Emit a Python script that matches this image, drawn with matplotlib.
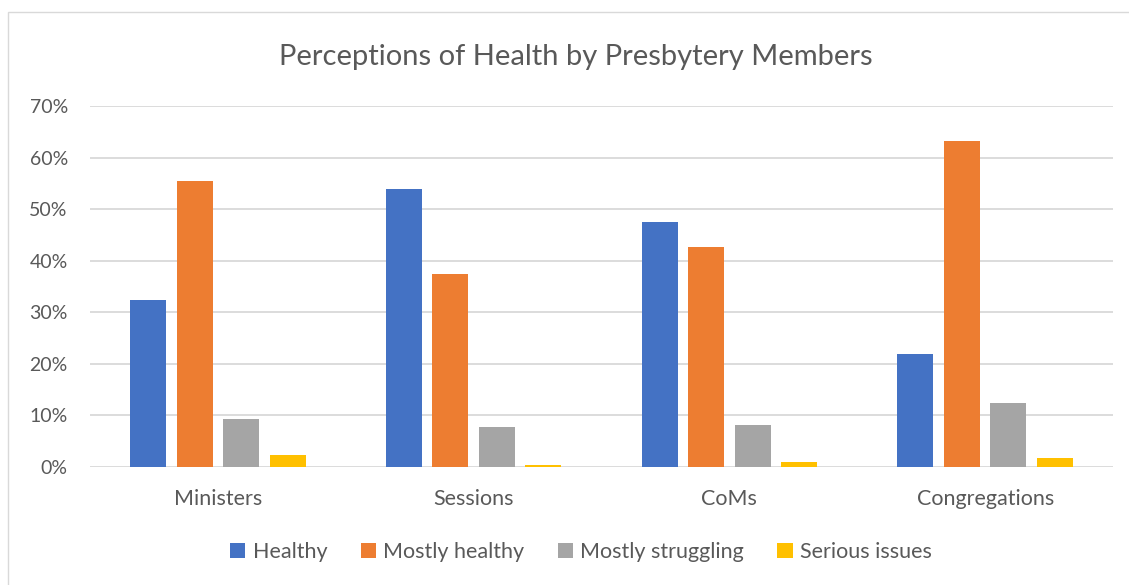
import matplotlib
matplotlib.use("Agg")
import matplotlib.pyplot as plt
import numpy as np
from matplotlib.patches import Rectangle
from matplotlib.ticker import PercentFormatter

categories = ["Ministers", "Sessions", "CoMs", "Congregations"]
healthy = [32.4, 53.9, 47.5, 22.0]
mostly_healthy = [55.4, 37.5, 42.7, 63.3]
mostly_struggling = [9.4, 7.8, 8.2, 12.5]
serious_issues = [2.4, 0.4, 1.0, 1.7]

series_names = ["Healthy", "Mostly healthy", "Mostly struggling", "Serious issues"]
colors = ["#4472C4", "#ED7D31", "#A5A5A5", "#FFC000"]
text_color = "#595959"
grid_color = "#D9D9D9"
font = "Lato"

fig = plt.figure(figsize=(11.29, 5.85), dpi=100)
fig.patches.append(Rectangle((8 / 1129, -0.1), 1.2, (585 - 12) / 585 + 0.1,
                             transform=fig.transFigure, fill=False,
                             edgecolor=grid_color, linewidth=1.0))

ax = fig.add_axes([90 / 1129, (585 - 467) / 585, (1113 - 90) / 1129, (467 - 106) / 585])

x = np.arange(len(categories))
step = 0.182
width = 0.141
all_series = [healthy, mostly_healthy, mostly_struggling, serious_issues]
for i, (vals, name, col) in enumerate(zip(all_series, series_names, colors)):
    ax.bar(x + (i - 1.5) * step, vals, width=width, color=col, label=name, zorder=3)

ax.set_xlim(-0.5, len(categories) - 0.5)
ax.set_ylim(0, 70)
ax.set_yticks(np.arange(0, 71, 10))
ax.yaxis.set_major_formatter(PercentFormatter(decimals=0))
ax.set_xticks(x)
ax.set_xticklabels(categories)
ax.grid(axis="y", color=grid_color, linewidth=1.3, zorder=0)
for s in ax.spines.values():
    s.set_visible(False)
ax.tick_params(axis="both", length=0, colors=text_color)
ax.tick_params(axis="y", pad=16, labelsize=14)
ax.tick_params(axis="x", pad=16, labelsize=15.5)
for lbl in ax.get_xticklabels() + ax.get_yticklabels():
    lbl.set_family(font)

fig.text(576 / 1129, (585 - 57) / 585, "Perceptions of Health by Presbytery Members",
         ha="center", va="center", fontsize=21, color=text_color, family=font)

leg = fig.legend(loc="center", bbox_to_anchor=(581 / 1129, (585 - 552) / 585), ncol=4,
                 frameon=False, handlelength=0.7, handleheight=0.7, handletextpad=0.35,
                 columnspacing=1.55, prop={"family": font, "size": 15.5})
for t in leg.get_texts():
    t.set_color(text_color)

fig.savefig("out.png", dpi=100)
